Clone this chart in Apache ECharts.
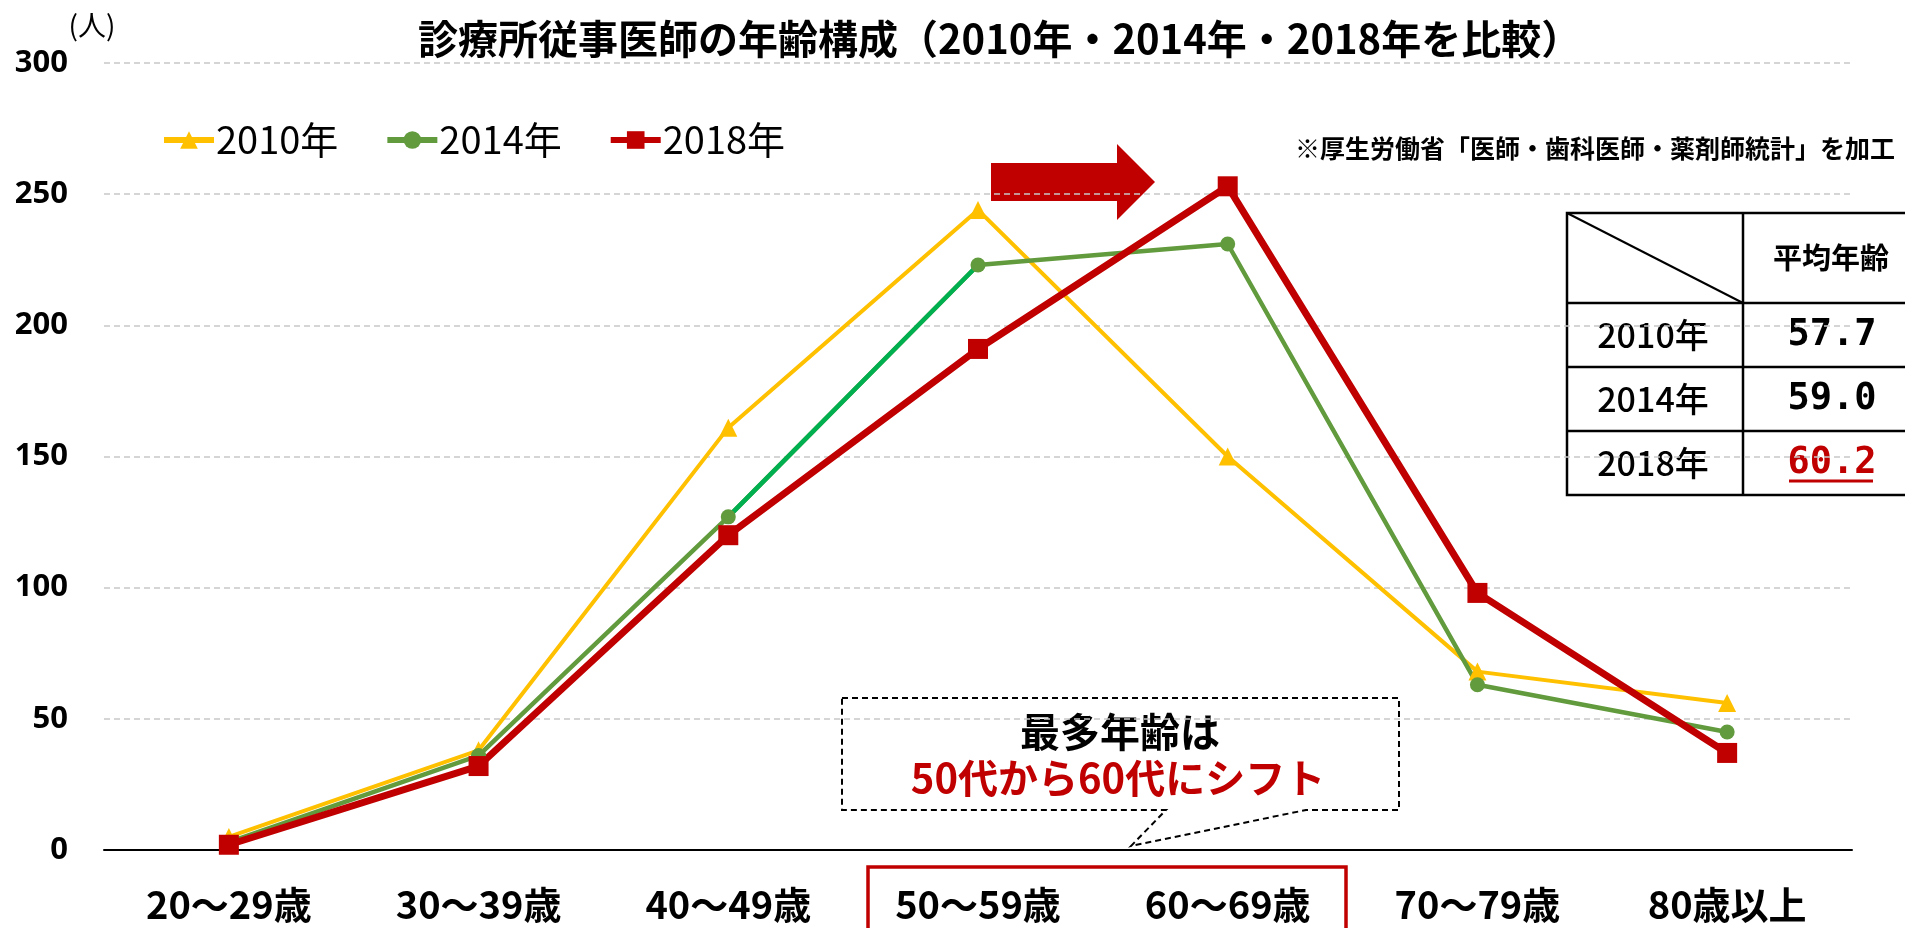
<!DOCTYPE html>
<html>
<head>
<meta charset="utf-8">
<script src="https://cdn.jsdelivr.net/npm/echarts@6/dist/echarts.min.js"></script>
<style>
  html, body { margin: 0; padding: 0; background: #fff; }
  #main { width: 1905px; height: 928px; }
</style>
</head>
<body>
<div id="main"></div>
<script>
// データ
var categories = ['20〜29歳', '30〜39歳', '40〜49歳', '50〜59歳', '60〜69歳', '70〜79歳', '80歳以上']
var v2010 = [5, 38, 161, 244, 150, 68, 56]
var v2014 = [3, 36, 127, 223, 231, 63, 45]
var v2018 = [2, 32, 120, 191, 253, 98, 37]
var seriesNames = ['2010年', '2014年', '2018年']
var yTicks = [0, 50, 100, 150, 200, 250, 300]

// 平均年齢の表
var tableYears = ['2010年', '2014年', '2018年']
var avgAges = ['57.7', '59.0', '60.2']

var JP = 'Noto Sans CJK JP'
var RED = '#C00000'

// 40〜49歳→50〜59歳 の区間だけ色が違う
var seg2014 = v2014.map(function(v, i){ return (i == 2 || i == 3) ? v : '-' })

var chart = echarts.init(document.getElementById('main'))

// 表
var tbl = { x: 1567, y: 213, colX: 1743, rows: [303, 367, 431, 495] }
var tableGraphic = [
  { type: 'rect', shape: { x: tbl.x, y: tbl.y, width: 360, height: tbl.rows[3] - tbl.y },
    style: { fill: 'none', stroke: '#000', lineWidth: 2.5 } },
  { type: 'line', shape: { x1: tbl.colX, y1: tbl.y, x2: tbl.colX, y2: tbl.rows[3] },
    style: { stroke: '#000', lineWidth: 2.5 } },
  { type: 'line', shape: { x1: tbl.x, y1: tbl.y, x2: tbl.colX, y2: tbl.rows[0] },
    style: { stroke: '#000', lineWidth: 2 } },
  { type: 'text', style: { text: '平均年齢', x: 1831, y: 258, align: 'center', verticalAlign: 'middle',
    fontFamily: JP, fontWeight: 'bold', fontSize: 29, fill: '#000' } }
]
for (var r = 0; r < tableYears.length; r++) {
  var y0 = tbl.rows[r], y1 = tbl.rows[r + 1], cy = (y0 + y1) / 2
  tableGraphic.push({ type: 'line', shape: { x1: tbl.x, y1: y0, x2: 1910, y2: y0 },
    style: { stroke: '#000', lineWidth: 2.5 } })
  tableGraphic.push({ type: 'text', style: { text: tableYears[r], x: 1653, y: cy, align: 'center',
    verticalAlign: 'middle', fontFamily: JP, fontWeight: 500, fontSize: 34, fill: '#000' } })
  tableGraphic.push({ type: 'text', style: { text: avgAges[r], x: 1832, y: cy, align: 'center',
    verticalAlign: 'middle', fontFamily: 'DejaVu Sans Mono', fontWeight: 'bold', fontSize: 37,
    fill: r == 2 ? RED : '#000' } })
}
// 60.2 の下線
tableGraphic.push({ type: 'line', shape: { x1: 1789, y1: 481, x2: 1873, y2: 481 },
  style: { stroke: RED, lineWidth: 3 } })

var option = {
  animation: false,
  backgroundColor: '#fff',
  title: {
    text: '診療所従事医師の年齢構成（2010年・2014年・2018年を比較）',
    left: 413,
    top: 14,
    textStyle: { fontFamily: JP, fontSize: 40, fontWeight: 'bold', color: '#000' }
  },
  legend: {
    data: seriesNames,
    left: 156,
    top: 116,
    itemWidth: 50,
    itemHeight: 22,
    itemGap: 46,
    lineStyle: { width: 6 },
    textStyle: { fontFamily: JP, fontSize: 38, color: '#000', padding: [0, 0, 0, -3] }
  },
  grid: { left: 104, right: 53, top: 63, bottom: 78 },
  xAxis: {
    type: 'category',
    data: categories,
    boundaryGap: true,
    axisLine: { lineStyle: { color: '#000', width: 2 } },
    axisTick: { show: false },
    axisLabel: { fontFamily: JP, fontSize: 38, fontWeight: 'bold', color: '#000', margin: 36 }
  },
  yAxis: {
    type: 'value',
    min: yTicks[0],
    max: yTicks[yTicks.length - 1],
    interval: 50,
    axisLine: { show: false },
    axisTick: { show: false },
    axisLabel: { fontFamily: 'Noto Sans', fontSize: 31, fontWeight: 'bold', color: '#000', margin: 36 },
    splitLine: { lineStyle: { color: '#C8C8C8', type: [6, 4], width: 1.5 } }
  },
  series: [
    { name: seriesNames[0], type: 'line', data: v2010, symbol: 'triangle', symbolSize: 18,
      itemStyle: { color: '#FFC000' }, lineStyle: { color: '#FFC000', width: 4 } },
    { name: seriesNames[1], type: 'line', data: v2014, symbol: 'circle', symbolSize: 15,
      itemStyle: { color: '#629B3D' }, lineStyle: { color: '#629B3D', width: 4.5 } },
    { name: '2014seg', type: 'line', data: seg2014, showSymbol: false, connectNulls: false,
      lineStyle: { color: '#00B050', width: 4.5 }, itemStyle: { color: '#00B050' } },
    { name: seriesNames[2], type: 'line', data: v2018, symbol: 'rect', symbolSize: 20,
      itemStyle: { color: RED }, lineStyle: { color: RED, width: 7 } }
  ],
  graphic: [
    // 単位
    { type: 'text', style: { text: '(人)', x: 92, y: 25, align: 'center', verticalAlign: 'middle',
      fontFamily: JP, fontSize: 28, fill: '#000' } },
    // 出典
    { type: 'text', style: { text: '※厚生労働省「医師・歯科医師・薬剤師統計」を加工', x: 1895, y: 148,
      align: 'right', verticalAlign: 'middle', fontFamily: JP, fontWeight: 'bold', fontSize: 25, fill: '#000' } },
    // 矢印
    { type: 'polygon', shape: { points: [[991, 163], [1117, 163], [1117, 144], [1155, 182], [1117, 220], [1117, 201], [991, 201]] },
      style: { fill: RED } },
    // 吹き出し
    { type: 'polygon', shape: { points: [[842, 698], [1399, 698], [1399, 810], [1306, 810], [1131, 846], [1166, 810], [842, 810]] },
      style: { fill: 'none', stroke: '#000', lineWidth: 2, lineDash: [6, 4] } },
    { type: 'text', style: { text: '最多年齢は', x: 1120, y: 732, align: 'center', verticalAlign: 'middle',
      fontFamily: JP, fontWeight: 'bold', fontSize: 40, fill: '#000' } },
    { type: 'text', style: { text: '50代から60代にシフト', x: 1118, y: 778, align: 'center', verticalAlign: 'middle',
      fontFamily: JP, fontWeight: 'bold', fontSize: 40, fill: RED } },
    // 50代・60代の強調枠
    { type: 'rect', shape: { x: 868, y: 867, width: 478, height: 80 },
      style: { fill: 'none', stroke: RED, lineWidth: 3.5 } }
  ].concat(tableGraphic)
}

chart.setOption(option)
</script>
</body>
</html>
